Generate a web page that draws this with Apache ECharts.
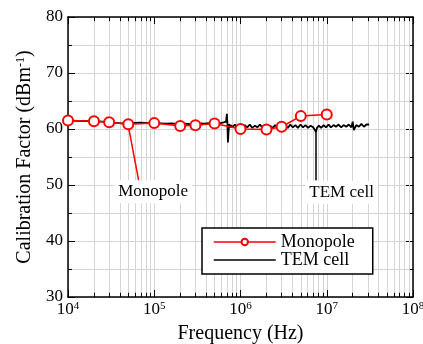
<!DOCTYPE html>
<html>
<head>
<meta charset="utf-8">
<script src="https://cdn.jsdelivr.net/npm/echarts@6/dist/echarts.min.js"></script>
<style>
  html, body {margin: 0; padding: 0; background: #fff;}
  #chart {width: 423px; height: 344px;}
</style>
</head>
<body>
<div id="chart"></div>
<script>
const font = 'Liberation Serif';

// Monopole measurement points
const monoFreq = [1e4, 2e4, 3e4, 5e4, 1e5, 2e5, 3e5, 5e5, 1e6, 2e6, 3e6, 5e6, 1e7];
const monoCal = [61.5, 61.4, 61.2, 60.85, 61.05, 60.55, 60.65, 61.0, 60.0, 59.9, 60.4, 62.3, 62.6];

// TEM cell sweep
const temFreq = [
  1e4, 1.3e4, 1.6e4, 2e4, 2.5e4, 3e4, 3.6e4, 4.2e4, 5e4, 5.8e4, 6.8e4, 8e4, 9e4, 1e5,
  1.2e5, 1.4e5, 1.6e5, 1.8e5, 2e5, 2.3e5, 2.6e5, 3e5, 3.4e5, 3.8e5, 4.3e5, 4.8e5, 5.3e5, 5.9e5, 6.4e5,
  6.8e5, 6.95e5, 7.05e5, 7.15e5, 7.25e5, 7.4e5, 7.6e5, 7.8e5,
  8.0e5, 8.6e5, 9.2e5, 9.8e5, 1.05e6, 1.12e6, 1.2e6, 1.28e6, 1.37e6, 1.47e6, 1.57e6, 1.68e6,
  1.8e6, 1.93e6, 2.06e6, 2.2e6, 2.36e6, 2.52e6, 2.7e6, 2.89e6, 3.09e6, 3.3e6, 3.54e6, 3.78e6,
  4.05e6, 4.33e6, 4.63e6, 4.96e6, 5.3e6, 5.67e6, 6.07e6, 6.5e6, 6.95e6, 7.3e6, 7.5e6, 7.7e6,
  8.1e6, 8.6e6, 9.2e6, 9.8e6, 1.05e7, 1.12e7, 1.2e7, 1.28e7, 1.37e7, 1.47e7, 1.57e7, 1.68e7,
  1.8e7, 1.93e7, 2.0e7, 2.06e7, 2.2e7, 2.36e7, 2.52e7, 2.7e7, 2.89e7, 3.1e7
];
const temCal = [
  61.5, 61.45, 61.4, 61.4, 61.3, 61.2, 61.1, 61.0, 61.0, 61.1, 61.15, 61.1, 61.0, 61.05,
  61.0, 60.95, 61.0, 60.9, 60.9, 60.95, 60.85, 60.9, 61.0, 60.95, 61.05, 61.0, 61.1, 61.05, 61.2,
  61.3, 62.7, 61.0, 57.6, 59.4, 60.9, 60.3, 60.7,
  60.3, 60.8, 60.3, 60.7, 60.2, 60.7, 60.3, 60.8, 60.2, 60.6, 60.3, 60.8,
  60.2, 60.7, 60.3, 60.6, 60.2, 60.7, 60.3, 60.8, 60.3, 60.7, 60.2, 60.8,
  60.3, 60.7, 60.2, 60.8, 60.3, 60.7, 60.2, 60.6, 60.3, 60.1, 59.5, 60.2,
  60.6, 60.2, 60.7, 60.3, 60.8, 60.3, 60.7, 60.4, 60.8, 60.3, 60.7, 60.4,
  60.8, 60.3, 61.3, 59.8, 60.7, 60.4, 60.9, 60.4, 60.8, 60.8
];

// minor decade positions for the log grid
const minorFreq = [];
[1e4, 1e5, 1e6, 1e7].forEach(d => {
  [2, 3, 4, 5, 6, 7, 8, 9].forEach(m => minorFreq.push(d * m));
});

const gridGray = '#d4d4d4';

const minorLines = [];
minorFreq.forEach(f => {
  minorLines.push([{coord: [f, 30.15], lineStyle: {color: gridGray, width: 1, type: 'solid'}}, {coord: [f, 79.85]}]);
  minorLines.push([{coord: [f, 30], lineStyle: {color: '#000', width: 1, type: 'solid'}}, {coord: [f, 30.75]}]);
  minorLines.push([{coord: [f, 80], lineStyle: {color: '#000', width: 1, type: 'solid'}}, {coord: [f, 79.25]}]);
});

const chart = echarts.init(document.getElementById('chart'));

const supRich = {sup: {fontSize: 11, fontFamily: font, color: '#000', verticalAlign: 'top'}};

chart.setOption({
  backgroundColor: '#fff',
  animation: false,
  textStyle: {fontFamily: font, color: '#000'},
  grid: {left: 68, right: 10, top: 17, bottom: 47, containLabel: false, outerBoundsMode: 'none'},
  legend: {
    data: [
      {name: 'Monopole'},
      {name: 'TEM cell', itemStyle: {opacity: 0}}
    ],
    orient: 'vertical',
    left: 202,
    top: 228,
    z: 20,
    itemWidth: 62,
    itemHeight: 8,
    itemGap: 0,
    padding: [5, 18, 5, 11],
    backgroundColor: '#fff',
    borderColor: '#000',
    borderWidth: 1.5,
    borderRadius: 0,
    itemTextGap: 20,
    lineStyle: {type: 'solid', width: 1.5},
    textStyle: {fontFamily: font, fontSize: 18, color: '#000'}
  },
  xAxis: [{
    type: 'log',
    logBase: 10,
    min: 1e4,
    max: 1e8,
    splitNumber: 4,
    name: 'Frequency (Hz)',
    nameLocation: 'middle',
    nameGap: 27,
    nameTextStyle: {fontFamily: font, fontSize: 20, color: '#000'},
    axisLine: {show: true, onZero: false, lineStyle: {color: '#000', width: 1.5}},
    axisTick: {show: true, inside: true, length: 7, lineStyle: {color: '#000', width: 1}},
    axisLabel: {
      fontFamily: font, fontSize: 17, color: '#000', margin: 4,
      formatter: v => '10{sup|' + Math.round(Math.log10(v)) + '}',
      rich: supRich
    },
    splitLine: {show: true, lineStyle: {color: gridGray, width: 1}}
  }, {
    type: 'log',
    logBase: 10,
    min: 1e4,
    max: 1e8,
    splitNumber: 4,
    position: 'top',
    axisLine: {show: true, onZero: false, lineStyle: {color: '#000', width: 1.5}},
    axisTick: {show: true, inside: true, length: 7, lineStyle: {color: '#000', width: 1}},
    axisLabel: {show: false},
    splitLine: {show: false}
  }],
  yAxis: [{
    type: 'value',
    min: 30,
    max: 80,
    interval: 10,
    name: 'Calibration Factor (dBm{sup|-1})',
    nameLocation: 'middle',
    nameGap: 24,
    nameTextStyle: {fontFamily: font, fontSize: 20, color: '#000', rich: {sup: {fontSize: 12, fontFamily: font, color: '#000', verticalAlign: 'top'}}},
    axisLine: {show: true, lineStyle: {color: '#000', width: 1.5}},
    axisTick: {show: true, inside: true, length: 7, lineStyle: {color: '#000', width: 1}},
    minorTick: {show: true, splitNumber: 2, length: 4, lineStyle: {color: '#000', width: 1}},
    axisLabel: {fontFamily: font, fontSize: 17, color: '#000', margin: 5},
    splitLine: {show: true, lineStyle: {color: gridGray, width: 1}},
    minorSplitLine: {show: true, lineStyle: {color: gridGray, width: 1}}
  }, {
    type: 'value',
    min: 30,
    max: 80,
    interval: 10,
    position: 'right',
    axisLine: {show: true, lineStyle: {color: '#000', width: 1.5}},
    axisTick: {show: true, inside: true, length: 7, lineStyle: {color: '#000', width: 1}},
    minorTick: {show: true, splitNumber: 2, length: 4, lineStyle: {color: '#000', width: 1}},
    axisLabel: {show: false},
    splitLine: {show: false}
  }],
  series: [{
    name: 'grid',
    type: 'line',
    z: 1,
    data: [],
    markLine: {
      silent: true,
      z: 1,
      symbol: ['none', 'none'],
      label: {show: false},
      emphasis: {disabled: true},
      data: minorLines
    }
  }, {
    name: 'TEM cell',
    type: 'line',
    z: 3,
    data: temFreq.map((f, i) => [f, temCal[i]]),
    showSymbol: false,
    symbol: 'none',
    lineStyle: {color: '#000', width: 1.8},
    itemStyle: {color: '#000'},
    markLine: {
      silent: true,
      z: 3,
      symbol: ['none', 'none'],
      label: {show: false},
      lineStyle: {color: '#000', width: 1.5, type: 'solid'},
      data: [[{coord: [7.5e6, 59.6]}, {coord: [7.5e6, 50.8]}]]
    },
    markPoint: {
      silent: true,
      z: 6,
      symbol: 'rect',
      symbolSize: 1,
      itemStyle: {color: 'rgba(0,0,0,0)'},
      label: {
        show: true, position: 'inside', formatter: '{b}',
        fontFamily: font, fontSize: 17, color: '#000',
        backgroundColor: '#fff', padding: [3, 4]
      },
      data: [{name: 'TEM cell', coord: [1.49e7, 48.7]}]
    }
  }, {
    name: 'Monopole',
    type: 'line',
    z: 4,
    data: monoFreq.map((f, i) => [f, monoCal[i]]),
    symbol: 'emptyCircle',
    symbolSize: 10,
    lineStyle: {color: '#ff0000', width: 1.5},
    itemStyle: {color: '#ff0000', borderWidth: 1.5},
    markLine: {
      silent: true,
      z: 3,
      symbol: ['none', 'none'],
      label: {show: false},
      lineStyle: {color: '#ff0000', width: 1.5, type: 'solid'},
      data: [[{coord: [5.1e4, 59.9]}, {coord: [6.6e4, 50.8]}]]
    },
    markPoint: {
      silent: true,
      z: 6,
      symbol: 'rect',
      symbolSize: 1,
      itemStyle: {color: 'rgba(0,0,0,0)'},
      label: {
        show: true, position: 'inside', formatter: '{b}',
        fontFamily: font, fontSize: 17, color: '#000',
        backgroundColor: '#fff', padding: [3, 4]
      },
      data: [{name: 'Monopole', coord: [9.7e4, 48.8]}]
    }
  }]
});
</script>
</body>
</html>
